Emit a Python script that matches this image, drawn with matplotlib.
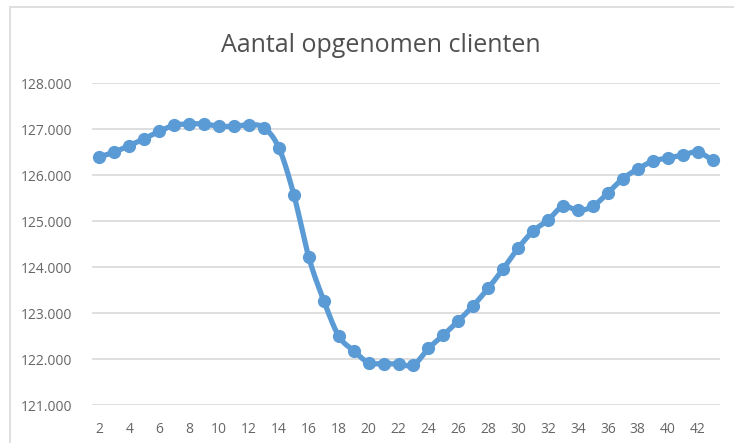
import matplotlib
matplotlib.use("Agg")
import matplotlib.pyplot as plt
import numpy as np
from matplotlib.patches import Rectangle
from matplotlib.ticker import FuncFormatter, MultipleLocator

weeks = list(range(2, 44))
clients = [126390, 126500, 126640, 126790, 126950, 127080, 127110, 127110, 127060, 127060,
           127090, 127030, 126590, 125570, 124210, 123270, 122500, 122180, 121920, 121900,
           121890, 121870, 122230, 122520, 122830, 123160, 123540, 123960, 124410, 124780,
           125020, 125320, 125230, 125320, 125610, 125920, 126130, 126300, 126370, 126430,
           126500, 126320]
title = "Aantal opgenomen clienten"
x_ticks = list(range(2, 43, 2))

plt.rcParams['font.family'] = ['Open Sans', 'DejaVu Sans']


def smooth(xs, ys, n=12):
    # Catmull-Rom curve through the data points (Excel "smoothed line" look)
    x = np.asarray(xs, float)
    y = np.asarray(ys, float)
    px = np.concatenate([[x[0]], x, [x[-1]]])
    py = np.concatenate([[y[0]], y, [y[-1]]])
    ox, oy = [], []
    t = np.linspace(0, 1, n, endpoint=False)
    for i in range(1, len(px) - 2):
        for P, out in ((px, ox), (py, oy)):
            p0, p1, p2, p3 = P[i - 1], P[i], P[i + 1], P[i + 2]
            m1 = (p2 - p0) / 2
            m2 = (p3 - p1) / 2
            h00 = 2 * t**3 - 3 * t**2 + 1
            h10 = t**3 - 2 * t**2 + t
            h01 = -2 * t**3 + 3 * t**2
            h11 = t**3 - t**2
            out.extend(h00 * p1 + h10 * m1 + h01 * p2 + h11 * m2)
    ox.append(x[-1])
    oy.append(y[-1])
    return ox, oy


W, H = 734, 443
fig = plt.figure(figsize=(W / 100, H / 100), dpi=100)
fig.patch.set_facecolor('white')
fig.patches.append(Rectangle((9.5 / W, -0.1), 1.2, 1.1 - 7 / H, transform=fig.transFigure,
                             fill=False, edgecolor='#D9D9D9', lw=1.2))

ax = fig.add_axes([92 / W, 1 - 405 / H, (720 - 92) / W, (405 - 83) / H])
sx, sy = smooth(weeks, clients)
ax.plot(sx, sy, color='#5B9BD5', lw=3.8, solid_capstyle='round',
        solid_joinstyle='round', zorder=3)
ax.plot(weeks, clients, color='#5B9BD5', lw=0, marker='o', markersize=8.5, zorder=4)

ax.set_ylim(121000, 128000)
ax.set_xlim(1.5, 43.5)
ax.yaxis.set_major_locator(MultipleLocator(1000))
ax.yaxis.set_major_formatter(FuncFormatter(lambda v, p: f"{int(round(v)):,}".replace(",", ".")))
ax.set_xticks(x_ticks)
ax.grid(axis='y', color='#D9D9D9', lw=1.2)
ax.set_axisbelow(True)
for s in ax.spines.values():
    s.set_visible(False)
ax.tick_params(axis='both', length=0, colors='#666666', labelsize=10)
ax.tick_params(axis='y', pad=14)
ax.tick_params(axis='x', pad=12)

fig.text(381 / W, 1 - 46 / H, title, ha='center', va='center', fontsize=18, color='#505050')

fig.savefig("out.png", dpi=100)
